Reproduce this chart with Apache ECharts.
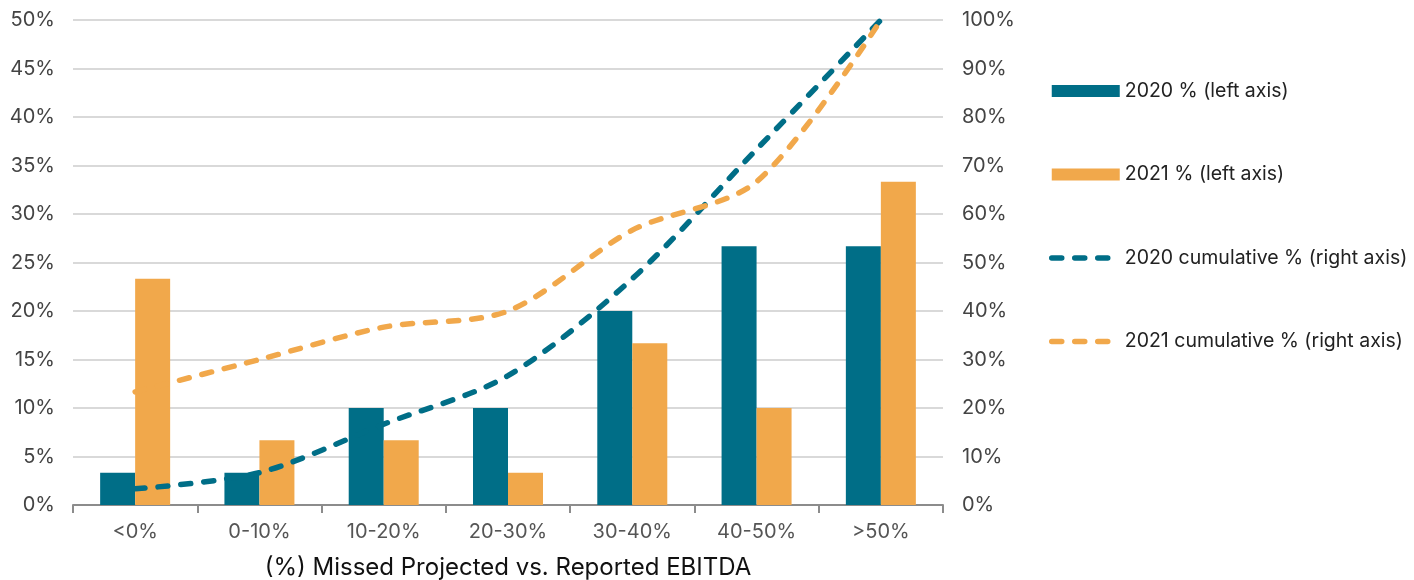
<!DOCTYPE html>
<html>
<head>
<meta charset="utf-8">
<script src="https://cdn.jsdelivr.net/npm/echarts@6/dist/echarts.min.js"></script>
<style>html,body{margin:0;padding:0;background:#fff}#c{width:1414px;height:580px}</style>
</head>
<body>
<div id="c"></div>
<script>
const categories = ['<0%', '0-10%', '10-20%', '20-30%', '30-40%', '40-50%', '>50%'];
const pct2020 = [3.33, 3.33, 10, 10, 20, 26.67, 26.67];
const pct2021 = [23.33, 6.67, 6.67, 3.33, 16.67, 10, 33.33];
const cum2020 = [3.33, 6.67, 16.67, 26.67, 46.67, 73.33, 100];
const cum2021 = [23.33, 30, 36.67, 40, 56.67, 66.67, 100];
const seriesNames = ['2020 % (left axis)', '2021 % (left axis)', '2020 cumulative % (right axis)', '2021 cumulative % (right axis)'];

const TEAL = '#006e87';
const ORANGE = '#f1a84b';
const FONT = 'Inter';
const DASH = { width: 5.5, type: [10, 13], cap: 'round' };

const chart = echarts.init(document.getElementById('c'));
chart.setOption({
  animation: false,
  textStyle: { fontFamily: FONT },
  grid: { left: 73, right: 471, top: 20, bottom: 75, containLabel: false, outerBoundsMode: 'none' },
  legend: {
    orient: 'vertical',
    left: 1044,
    top: 76,
    itemGap: 63.5,
    itemWidth: 68,
    itemHeight: 12,
    textStyle: { fontFamily: FONT, fontSize: 19.5, lineHeight: 20, color: '#222' },
    data: [
      { name: seriesNames[0], icon: 'rect' },
      { name: seriesNames[1], icon: 'rect' },
      { name: seriesNames[2], itemStyle: { opacity: 0 }, lineStyle: Object.assign({ color: TEAL }, DASH) },
      { name: seriesNames[3], itemStyle: { opacity: 0 }, lineStyle: Object.assign({ color: ORANGE }, DASH) }
    ]
  },
  xAxis: {
    type: 'category',
    data: categories,
    axisLine: { lineStyle: { color: '#8c8c8c', width: 2 } },
    axisTick: { show: true, alignWithLabel: false, length: 8, lineStyle: { color: '#8c8c8c', width: 2 } },
    axisLabel: { fontFamily: FONT, fontSize: 20, color: '#555', margin: 17 },
    name: '(%) Missed Projected vs. Reported EBITDA',
    nameLocation: 'middle',
    nameGap: 51,
    nameTextStyle: { fontFamily: FONT, fontSize: 24, color: '#111' }
  },
  yAxis: [
    {
      type: 'value', min: 0, max: 50, interval: 5,
      axisLabel: { formatter: '{value}%', fontFamily: FONT, fontSize: 20, color: '#444', margin: 18 },
      splitLine: { lineStyle: { color: '#d9d9d9', width: 2 } },
      axisLine: { show: false }, axisTick: { show: false }
    },
    {
      type: 'value', min: 0, max: 100, interval: 10,
      axisLabel: { formatter: '{value}%', fontFamily: FONT, fontSize: 20, color: '#444', margin: 19 },
      splitLine: { show: false },
      axisLine: { show: false }, axisTick: { show: false }
    }
  ],
  series: [
    { name: seriesNames[0], type: 'bar', data: pct2020, yAxisIndex: 0, barWidth: 35, barGap: '0%', itemStyle: { color: TEAL } },
    { name: seriesNames[1], type: 'bar', data: pct2021, yAxisIndex: 0, barWidth: 35, barGap: '0%', itemStyle: { color: ORANGE } },
    { name: seriesNames[2], type: 'line', data: cum2020, yAxisIndex: 1, smooth: 0.3, symbol: 'none', z: 5,
      itemStyle: { color: TEAL },
      lineStyle: Object.assign({ color: TEAL }, DASH) },
    { name: seriesNames[3], type: 'line', data: cum2021, yAxisIndex: 1, smooth: 0.3, symbol: 'none', z: 5,
      itemStyle: { color: ORANGE },
      lineStyle: Object.assign({ color: ORANGE }, DASH) }
  ]
});
</script>
</body>
</html>
